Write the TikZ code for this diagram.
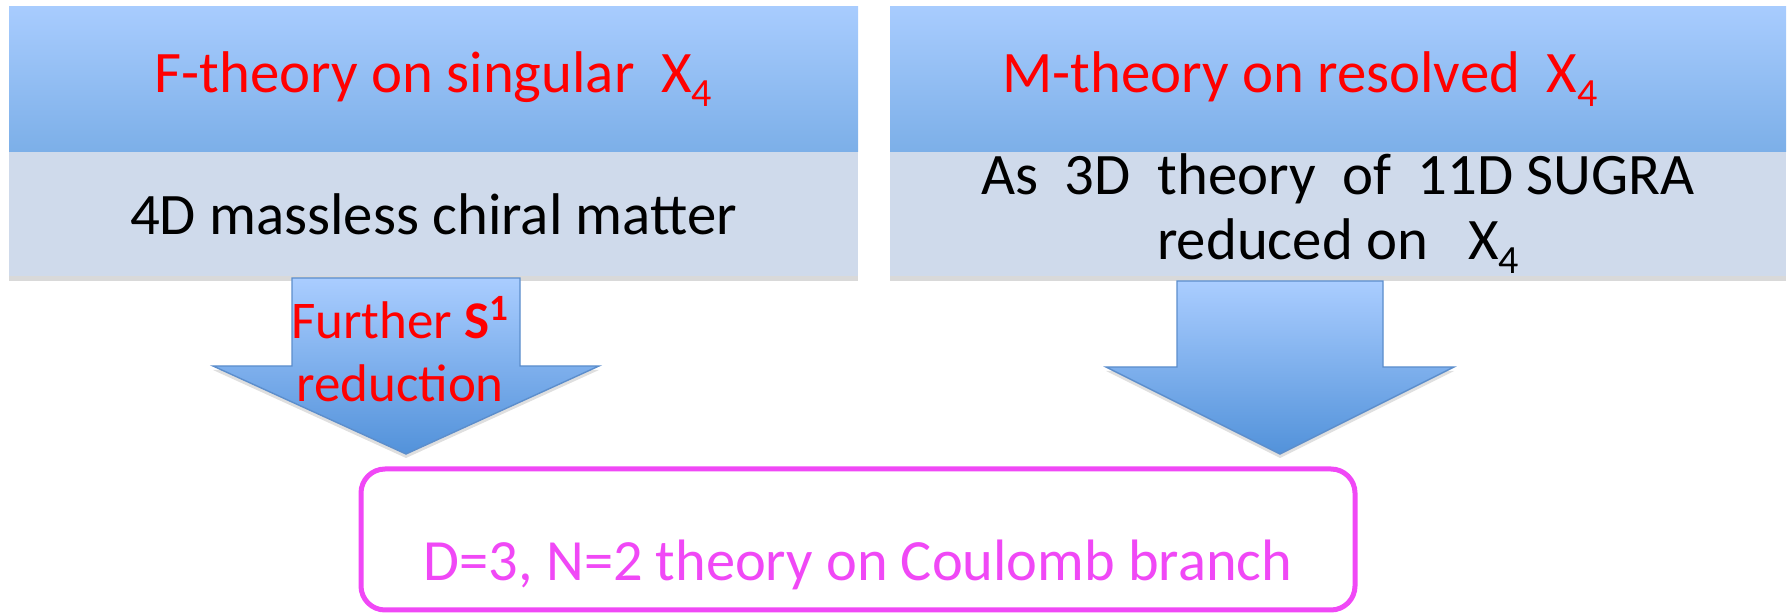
\documentclass[tikz,border=0pt]{standalone}
\usepackage{fontspec}
\setmainfont{Carlito}
\usetikzlibrary{positioning,shadows,calc}
\definecolor{headtop}{RGB}{168,204,254}
\definecolor{headbot}{RGB}{124,175,232}
\definecolor{bodyfill}{RGB}{207,218,235}
\definecolor{arrtop}{RGB}{170,205,255}
\definecolor{arrbot}{RGB}{82,146,218}
\definecolor{arredge}{RGB}{92,142,204}
\definecolor{pinkish}{RGB}{240,72,246}

% X with a low subscript 4
\newcommand{\Xfour}{X\raisebox{-7pt}{\fontsize{20}{20}\selectfont 4}}

% down arrow: centre x, top y, shaft half width, wing half width, wing y, tip y
\newcommand{\downblock}[6]{%
  \path[blockarr] (#1-#3,#2) -- (#1+#3,#2) -- (#1+#3,#5) -- (#1+#4,#5)
    -- (#1,#6) -- (#1-#4,#5) -- (#1-#3,#5) -- cycle;}

\begin{document}
\begin{tikzpicture}[x=0.5pt, y=-0.5pt,
    head/.style={rectangle, top color=headtop, bottom color=headbot, inner sep=0pt,
                 minimum height=72.5pt, text=red, font=\fontsize{29.4}{33}\selectfont},
    body/.style={rectangle, fill=bodyfill, inner sep=0pt, minimum height=62pt, align=center,
                 font=\fontsize{29.4}{32.5}\selectfont,
                 drop shadow={shadow xshift=0pt, shadow yshift=-2.5pt, opacity=0.3}},
    blockarr/.style={top color=arrtop, bottom color=arrbot, draw=arredge, line width=0.7pt,
                 drop shadow={shadow xshift=0pt, shadow yshift=-2pt, opacity=0.25}},
    lbl/.style={align=center, inner sep=0pt, font=\fontsize{26.5}{31.5}\selectfont},
    result/.style={rectangle, draw=pinkish, line width=2.5pt, rounded corners=12pt,
                 fill=white, minimum width=497pt, minimum height=70.5pt}
]
\useasboundingbox (0,0) rectangle (1792,613);

% two set-ups
\node[body, minimum width=424.5pt] (fbody) at (433.5,214) {4D massless chiral matter};
\node[head, minimum width=424.5pt] (fhead) at (433.5,79.5) {F-theory on singular\ \ \Xfour};
\node[body, minimum width=448pt] (mbody) at (1338,214)
  {As\ \ 3D\ \ theory\ \ of\ \ 11D SUGRA\\reduced on\ \ \ \Xfour};
\node[head, minimum width=448pt] (mhead) at (1338,79.5) {M-theory on resolved\ \ \Xfour\hspace*{38pt}};

% arrows down
\downblock{406}{278}{114}{193}{366}{454}
\downblock{1280}{281}{103}{174}{367}{454}
\node[lbl, text=red] (s1red) at (400,349) {Further \textbf{S\textsuperscript{1}}\\reduction};

% common result
\node[result] (coulomb) at (858,539.5) {};
\node[lbl, text=pinkish, anchor=base, font=\fontsize{29.2}{32}\selectfont] (coultext)
  at ([yshift=16pt]coulomb.south) {D=3, N=2 theory on Coulomb branch};
\end{tikzpicture}
\end{document}
